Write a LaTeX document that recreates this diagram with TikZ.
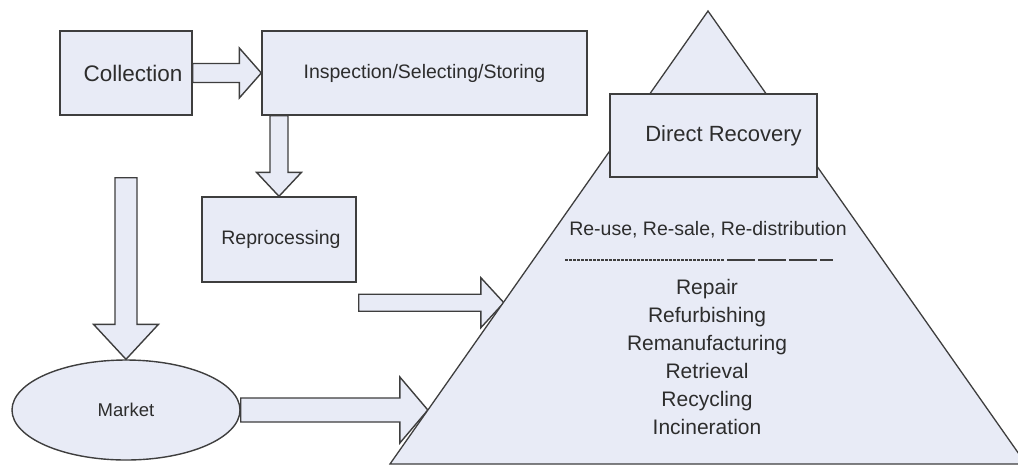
\documentclass[tikz,border=0pt]{standalone}
\usepackage{fontspec}
\setmainfont{Liberation Sans}
\usetikzlibrary{calc,shapes.geometric}

\definecolor{linec}{RGB}{62,62,62}
\definecolor{fillc}{RGB}{232,235,246}
\definecolor{textc}{RGB}{45,45,45}

% horizontal block arrow: from #1 to #2, shaft half-width #3, head half-width #4, head length #5
\newcommand\rblockarrow[5]{%
  \draw[blk] let \p1=(#1), \p2=(#2) in
    (\x1,\y1+#3) -- (\x2-#5,\y1+#3) -- (\x2-#5,\y1+#4) -- (\x2,\y1)
    -- (\x2-#5,\y1-#4) -- (\x2-#5,\y1-#3) -- (\x1,\y1-#3) -- cycle;}
% downward block arrow, same arguments
\newcommand\dblockarrow[5]{%
  \draw[blk] let \p1=(#1), \p2=(#2) in
    (\x1-#3,\y1) -- (\x1-#3,\y2+#5) -- (\x1-#4,\y2+#5) -- (\x1,\y2)
    -- (\x1+#4,\y2+#5) -- (\x1+#3,\y2+#5) -- (\x1+#3,\y1) -- cycle;}

\tikzset{
  box/.style={draw=linec, line width=1.4pt, fill=fillc, text=textc, inner sep=0pt},
  blk/.style={draw=linec, line width=1.4pt, fill=fillc, line join=miter},
  pyr/.style={draw=linec, line width=1.3pt, fill=fillc, line join=miter},
  lbl/.style={text=textc, inner sep=0pt},
  sep/.style={draw=linec, line width=1.2pt},
}

\begin{document}
\begin{tikzpicture}[x=1pt,y=-1pt]
  \useasboundingbox (0,0) rectangle (1018,467);
  \clip (0,0) rectangle (1018,467);

  % boxes and the market ellipse
  \node[box, minimum width=132pt, minimum height=84pt, font=\fontsize{22.5}{26}\selectfont]
    (coll) at (126,73) {\hspace{14pt}Collection};
  \node[box, minimum width=325pt, minimum height=84pt, font=\fontsize{19.5}{23}\selectfont]
    (insp) at (424.5,73) {Inspection/Selecting/Storing};
  \node[box, minimum width=154pt, minimum height=85pt, font=\fontsize{19.5}{23}\selectfont]
    (repro) at (279,239.5) {\hspace{4pt}Reprocessing};
  \node[box, ellipse, minimum width=228pt, minimum height=100pt, font=\fontsize{18.5}{22}\selectfont]
    (market) at (126,410) {Market};

  % recovery pyramid corners and entry points on its left side
  \coordinate (apex) at (708,11);
  \coordinate (baseL) at (390,464);
  \coordinate (baseR) at (1026,464);
  \coordinate (pin1) at ($(apex)!0.642!(baseL)$);
  \coordinate (pin2) at ($(apex)!0.881!(baseL)$);
  \coordinate (mkin) at ($(coll.south)+(0,62)$);
  \coordinate (rpout) at ($(repro.south east)+(2,20)$);

  % block arrows
  \rblockarrow{coll.east}{insp.west}{9.5pt}{25pt}{22pt}
  \dblockarrow{insp.south -| repro.north}{repro.north}{9pt}{22.5pt}{24pt}
  \dblockarrow{mkin}{market.north}{11pt}{32.5pt}{35pt}
  \rblockarrow{rpout}{pin1}{8.5pt}{25pt}{23pt}
  \rblockarrow{market.east}{pin2}{12pt}{33pt}{28pt}

  % pyramid
  \draw[pyr] (apex) -- (baseL) -- (baseR) -- cycle;
  \node[box, minimum width=207pt, minimum height=83pt, font=\fontsize{22}{26}\selectfont]
    (direct) at (713.5,135.5) {\hspace{20pt}Direct Recovery};

  \node[lbl, font=\fontsize{19.5}{23}\selectfont] (reuse) at (708,230)
    {Re-use, Re-sale, Re-distribution};
  \draw[sep, dash pattern=on 3pt off 1pt] (565,260) -- (724,260);
  \draw[sep, dash pattern=on 28pt off 3pt] (727,260) -- (833,260);

  \node[lbl, font=\fontsize{21}{28}\selectfont, align=center] (steps) at (707,357)
    {Repair\\Refurbishing\\Remanufacturing\\Retrieval\\Recycling\\Incineration};
\end{tikzpicture}
\end{document}
